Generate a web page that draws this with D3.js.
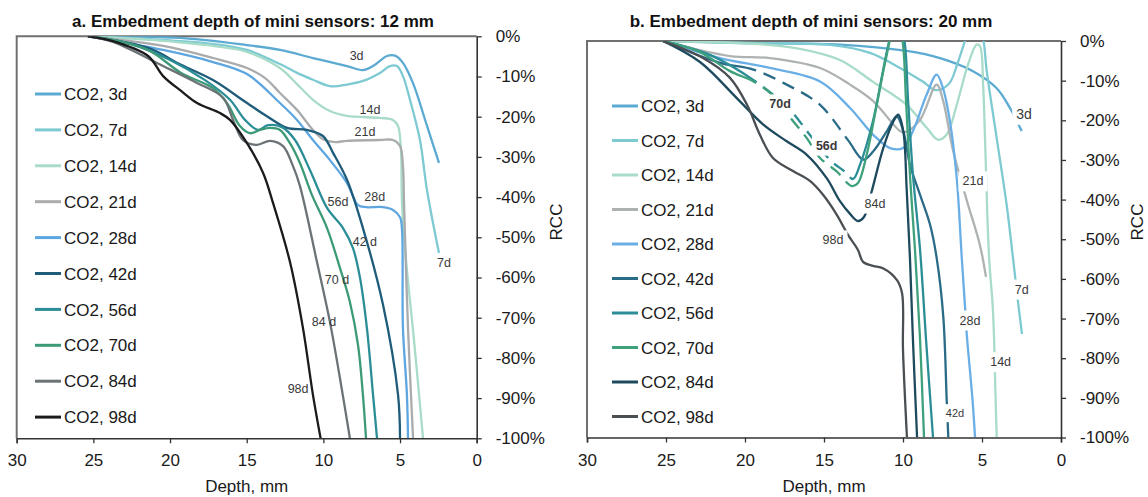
<!DOCTYPE html>
<html>
<head>
<meta charset="utf-8">
<script src="https://cdn.jsdelivr.net/npm/d3@7"></script>
<style>
  body { margin: 0; background: #fff; }
  svg { display: block; font-family: 'Liberation Sans', Arial, sans-serif; }
</style>
</head>
<body>
<svg width="1148" height="497"></svg>
<script>
const svg = d3.select('svg');

const days = ['3d', '7d', '14d', '21d', '28d', '42d', '56d', '70d', '84d', '98d'];
const depthTicks = [30, 25, 20, 15, 10, 5, 0];
const rccTicks = [0, -10, -20, -30, -40, -50, -60, -70, -80, -90, -100];

// [depth mm, RCC %] — sensors at 12 mm
const a3 = [[25.35, 0], [19.35, -0.4], [14.98, -2.2], [12.83, -3.4], [10.68, -5.4], [8.46, -7.4], [7.42, -8.4], [6.76, -7.4], [5.85, -4.9], [5.33, -4.8], [4.81, -6.6], [4.16, -11.6], [3.24, -22.3], [2.46, -31.5]];
const a7 = [[25.35, 0], [21.3, -0.7], [17.2, -1.9], [14.98, -3.4], [12.83, -6.9], [11.72, -9.1], [10.68, -10.8], [9.57, -12.4], [8.46, -12.0], [7.42, -11.1], [6.31, -9.1], [5.66, -7.4], [5.2, -7.4], [4.81, -9.9], [4.35, -15.8], [3.7, -25.8], [3.24, -38.3], [2.46, -53.9]];
const a14 = [[25.35, 0], [21.3, -0.9], [17.2, -2.4], [14.98, -3.9], [12.83, -7.9], [11.72, -11.9], [10.68, -15.8], [9.57, -18.6], [8.46, -19.8], [6.31, -20.3], [5.46, -20.8], [5.13, -22.3], [4.94, -28.3], [4.87, -41.5], [4.61, -55.6], [4.09, -75.5], [3.5, -100]];
const a21 = [[25.35, 0], [20.45, -2.4], [17.2, -5.4], [14.98, -7.9], [13.8, -10.4], [12.83, -14.1], [11.72, -18.3], [10.68, -23.3], [10.03, -25.6], [9.24, -26.3], [8.46, -26.0], [6.31, -25.8], [5.46, -25.8], [5.0, -27.3], [4.81, -32.3], [4.74, -41.5], [4.48, -72.6], [4.15, -100]];
const a28 = [[25.35, 0], [20.45, -3.4], [17.2, -6.4], [14.98, -9.4], [12.83, -16.6], [11.72, -20.8], [10.68, -25.8], [9.57, -30.8], [8.46, -36.5], [7.74, -42.0], [7.22, -42.5], [6.11, -42.5], [5.46, -43.2], [5.0, -45.0], [4.87, -48.2], [4.81, -72.6], [4.55, -89.2], [4.48, -100]];
const a42 = [[25.35, 0], [21.43, -2.9], [19.28, -7.1], [17.2, -10.9], [14.98, -16.6], [13.68, -19.9], [12.37, -22.8], [11.07, -23.3], [10.03, -24.8], [9.37, -29.0], [8.46, -35.7], [7.42, -47.7], [6.11, -66.8], [5.13, -89.2], [5.0, -100]];
const a56 = [[25.35, 0], [22.61, -1.9], [20.0, -5.9], [17.72, -10.9], [16.09, -15.8], [15.11, -20.8], [14.26, -23.3], [13.61, -22.1], [12.7, -22.6], [11.85, -25.8], [10.87, -33.3], [9.76, -42.7], [8.72, -47.7], [8.07, -52.7], [7.61, -60.1], [7.16, -72.6], [6.76, -89.2], [6.5, -100]];
const a70 = [[25.35, 0], [23.72, -0.9], [21.43, -3.4], [19.28, -9.1], [17.2, -12.9], [16.29, -16.6], [15.44, -22.3], [14.79, -24.1], [14.13, -23.3], [13.48, -22.8], [12.83, -23.3], [12.18, -26.6], [11.53, -31.5], [10.74, -39.5], [9.76, -47.7], [8.92, -57.6], [8.27, -66.1], [7.74, -76.8], [7.42, -89.2], [7.22, -100]];
const a84 = [[25.35, 0], [23.72, -1.4], [20.45, -7.4], [18.24, -11.6], [16.54, -15.3], [15.89, -20.8], [15.24, -25.8], [14.33, -27.0], [13.48, -26.0], [12.63, -27.3], [11.98, -32.3], [11.53, -37.2], [10.42, -56.1], [9.57, -71.1], [8.92, -85.0], [8.27, -100]];
const a98 = [[25.35, 0], [23.72, -1.2], [21.43, -4.9], [20.45, -9.9], [19.28, -13.6], [18.24, -16.6], [16.74, -19.1], [16.09, -20.8], [14.98, -26.6], [13.93, -34.0], [13.28, -41.5], [12.18, -56.1], [11.33, -72.6], [10.68, -89.2], [10.18, -100]];

// [depth mm, RCC %] — sensors at 20 mm
const b3 = [[25.19, 0], [20.32, -0.5], [13.99, -0.9], [9.77, -2.5], [7.66, -4.3], [5.57, -7.6], [4.07, -11.9], [3.23, -16.9], [2.49, -22.7]];
const b7 = [[25.19, 0], [19.68, -0.5], [14.62, -1.0], [12.09, -3.0], [10.19, -6.8], [8.73, -10.3], [7.91, -12.4], [7.09, -10.8], [6.52, -5.3], [6.01, 0.8], [5.44, 6.6], [4.94, 0.8], [4.7, -7.6], [4.07, -24.5], [3.44, -41.3], [3.04, -54.7], [2.72, -65.8], [2.47, -73.9]];
const b14 = [[25.19, 0], [19.05, -0.8], [16.52, -2.0], [13.99, -4.8], [11.9, -10.3], [9.77, -16.1], [8.5, -21.9], [7.78, -24.9], [7.23, -23.6], [6.6, -16.1], [5.89, -6.0], [5.34, -0.9], [5.13, -1.3], [4.92, -11.9], [4.81, -24.5], [4.56, -54.0], [4.32, -67.0], [4.22, -77.1], [4.18, -84.2], [4.07, -100]];
const b21 = [[25.19, 0], [20.95, -3.8], [18.42, -4.3], [15.25, -6.8], [13.35, -11.0], [11.9, -15.1], [10.19, -22.7], [9.87, -23.0], [8.92, -19.9], [7.87, -11.0], [7.47, -14.9], [6.84, -27.5], [5.97, -40.1], [5.13, -51.5], [4.75, -59.5]];
const b28 = [[25.19, 0], [21.58, -4.3], [18.42, -6.8], [15.25, -10.2], [13.35, -16.9], [11.9, -23.6], [10.82, -27.0], [10.0, -27.0], [9.37, -22.7], [8.5, -13.5], [7.87, -8.5], [7.47, -11.9], [7.03, -20.2], [6.6, -34.6], [6.28, -54.7], [6.08, -66.6], [5.97, -73.7], [5.59, -91.0], [5.44, -100]];
const b42 = [[25.19, 0], [21.58, -5.5], [19.47, -7.2], [17.36, -11.0], [15.25, -16.1], [13.48, -25.0], [12.51, -29.9], [11.88, -27.8], [11.03, -22.8], [10.4, -19.0], [9.98, -22.8], [9.56, -31.2], [8.92, -38.8], [8.29, -46.3], [7.87, -54.7], [7.45, -69.5], [7.23, -91.0], [7.13, -100]];
const b56 = [[25.19, 0], [22.22, -3.5], [19.05, -11.0], [17.15, -17.4], [15.89, -23.7], [14.62, -30.0], [13.67, -33.0], [13.16, -34.8], [12.72, -31.2], [11.9, -20.2], [11.27, -7.6], [10.82, 0.8], [10.38, 5.8], [9.94, 0.8], [9.68, -14.9], [9.37, -33.8], [8.92, -52.7], [8.54, -75.4], [8.1, -100]];
const b70 = [[25.19, 0], [22.85, -2.8], [20.95, -7.6], [19.47, -10.2], [18.31, -13.5], [16.94, -20.3], [16.09, -24.5], [15.25, -29.5], [14.2, -32.9], [13.23, -36.6], [12.85, -35.8], [12.3, -28.7], [11.66, -16.1], [11.03, -3.5], [10.44, 5.3], [10.06, 0.8], [9.81, -14.9], [9.56, -33.8], [9.24, -52.7], [8.92, -75.4], [8.67, -100]];
const b84 = [[25.19, 0], [22.85, -5.3], [20.52, -14.4], [18.84, -21.1], [17.36, -25.3], [16.09, -28.7], [14.83, -34.6], [13.99, -40.4], [13.35, -43.6], [12.85, -45.4], [12.47, -44.4], [11.98, -37.9], [11.25, -27.0], [10.61, -20.3], [10.3, -18.6], [9.98, -22.8], [9.77, -37.1], [9.56, -54.7], [9.37, -75.4], [9.11, -100]];
const b98 = [[25.19, 0], [22.66, -4.3], [20.95, -9.3], [19.87, -16.1], [19.05, -23.7], [18.23, -29.5], [16.96, -32.8], [15.89, -35.3], [15.06, -38.8], [14.18, -43.9], [13.48, -48.9], [12.85, -52.7], [12.53, -55.7], [11.9, -56.7], [11.27, -57.3], [10.38, -60.3], [10.06, -63.6], [10.0, -77.9], [9.75, -100]];

// in-plot labels: [text, depth, RCC]
const labelsA = [['3d', 7.83, -4.8], ['14d', 6.96, -18.3], ['21d', 7.29, -23.8], ['28d', 6.65, -39.9], ['56d', 9.05, -41.2], ['42 d', 7.29, -51.2], ['7d', 2.13, -56.3], ['70 d', 9.11, -60.6], ['84 d', 9.96, -71.1], ['98d', 11.65, -87.7]];
const labelsB = [['3d', 2.34, -18.4], ['70d', 17.78, -15.9], ['56d', 14.83, -26.3], ['84d', 11.77, -40.9], ['98d', 14.43, -50.2], ['21d', 5.57, -35.3], ['7d', 2.49, -62.6], ['28d', 5.76, -70.4], ['14d', 3.82, -80.9], ['42d', 6.71, -93.9]];

const colorsA = ['#5aaad2', '#7ecad3', '#a8dcc8', '#a9abad', '#5ea6e0', '#1f5c7a', '#2b8d96', '#3c9a76', '#6b7376', '#1b1b1e'];
const colorsB = ['#5aaad2', '#7ecad3', '#a8dcc8', '#aeb2b2', '#6aaee6', '#2a6b88', '#2b8d96', '#3fa07c', '#1e4a5e', '#4a4f53'];

const panels = [
  {
    title: 'a. Embedment depth of mini sensors: 12 mm',
    series: [a3, a7, a14, a21, a28, a42, a56, a70, a84, a98],
    colors: colorsA, labels: labelsA, boxed: false, dashed: [],
    left: 16.7, right: 476.7, top: 36.3, bottom: 438.3,
    titleX: 253, rccX: 556, legendX: 35, legendY: 94, legendStep: 35.9,
  },
  {
    title: 'b. Embedment depth of mini sensors: 20 mm',
    series: [b3, b7, b14, b21, b28, b42, b56, b70, b84, b98],
    colors: colorsB, labels: labelsB, boxed: true, dashed: ['42d', '56d', '70d'],
    left: 587, right: 1061, top: 41, bottom: 437.5,
    titleX: 811, rccX: 1137, legendX: 612, legendY: 106, legendStep: 34.5,
  },
];

// dashed stretch of a path between two depths, solid elsewhere
const dashBetween = (node, x, from, to) => {
  const total = node.getTotalLength();
  let l1 = null;
  let l2 = total;
  for (let s = 0; s <= total; s += 1) {
    const pt = node.getPointAtLength(s);
    if (l1 === null && pt.x >= x(from)) l1 = s;
    if (pt.x >= x(to)) { l2 = s; break; }
  }
  const dash = 13;
  const gap = 8;
  const arr = [l1];
  let pos = l1;
  while (pos + gap + dash < l2) {
    arr.push(gap, dash);
    pos += gap + dash;
  }
  arr.push(gap, total);
  return arr.join(' ');
};

panels.forEach((p, i) => {
  const x = d3.scaleLinear().domain([30, 0]).range([p.left, p.right]);
  const y = d3.scaleLinear().domain([0, -100]).range([p.top, p.bottom]);
  const g = svg.append('g');

  g.append('clipPath')
    .attr('id', 'plot' + i)
    .append('rect')
    .attr('x', p.left)
    .attr('y', p.top)
    .attr('width', p.right - p.left)
    .attr('height', p.bottom - p.top);

  // left and top edges of the plot frame
  g.append('path')
    .attr('d', `M${p.left},${p.bottom}V${p.top}H${p.right}`)
    .attr('fill', 'none')
    .attr('stroke', '#707070')
    .attr('stroke-width', 2);

  const line = d3.line()
    .x(d => x(d[0]))
    .y(d => y(d[1]))
    .curve(d3.curveCatmullRom.alpha(0.5));

  const paths = g.append('g')
    .attr('clip-path', `url(#plot${i})`)
    .selectAll('path')
    .data(p.series)
    .join('path')
    .attr('d', line)
    .attr('fill', 'none')
    .attr('stroke', (d, j) => p.colors[j])
    .attr('stroke-width', 2.3)
    .attr('stroke-linejoin', 'round');

  paths.filter((d, j) => p.dashed.includes(days[j]))
    .attr('stroke-dasharray', function () { return dashBetween(this, x, 19.3, 13.4); });

  const xAxis = g.append('g')
    .attr('transform', `translate(0,${p.bottom})`)
    .call(d3.axisBottom(x).tickValues(depthTicks).tickSize(5).tickSizeOuter(5).tickPadding(11));

  const yAxis = g.append('g')
    .attr('transform', `translate(${p.right},0)`)
    .call(d3.axisRight(y).tickValues(rccTicks).tickSize(5).tickSizeOuter(0).tickPadding(14).tickFormat(d => d + '%'));

  [xAxis, yAxis].forEach(ax => {
    ax.select('.domain').attr('stroke', '#333').attr('stroke-width', 1.6);
    ax.selectAll('.tick line').attr('stroke', '#333').attr('stroke-width', 1.3);
    ax.selectAll('.tick text')
      .attr('fill', '#1a1a1a')
      .style('font-size', '17px')
      .style('font-family', "'Liberation Sans', Arial, sans-serif");
  });

  // curve labels
  p.labels.forEach(([txt, dep, rcc]) => {
    const bold = p.boxed && (txt === '70d' || txt === '56d');
    const size = txt === '42d' ? 11 : (p.boxed && txt === '3d' ? 14 : 12.5);
    const t = g.append('text')
      .attr('x', x(dep))
      .attr('y', y(rcc))
      .attr('dy', '0.35em')
      .attr('text-anchor', 'middle')
      .attr('fill', '#3a3a3a')
      .style('font-size', size + 'px')
      .style('font-weight', bold ? 'bold' : 'normal')
      .text(txt);
    if (p.boxed) {
      const b = t.node().getBBox();
      g.insert('rect', () => t.node())
        .attr('x', b.x - 4)
        .attr('y', b.y - 3)
        .attr('width', b.width + 8)
        .attr('height', b.height + 6)
        .attr('fill', '#fff');
    }
  });

  // legend
  const legend = g.append('g');
  days.forEach((day, j) => {
    const ly = p.legendY + j * p.legendStep;
    legend.append('line')
      .attr('x1', p.legendX)
      .attr('x2', p.legendX + 26)
      .attr('y1', ly)
      .attr('y2', ly)
      .attr('stroke', p.colors[j])
      .attr('stroke-width', 3);
    legend.append('text')
      .attr('x', p.legendX + 29)
      .attr('y', ly)
      .attr('dy', '0.36em')
      .attr('fill', '#1a1a1a')
      .style('font-size', '17px')
      .text('CO2, ' + day);
  });

  g.append('text')
    .attr('x', p.titleX)
    .attr('y', 26.5)
    .attr('text-anchor', 'middle')
    .attr('fill', '#111')
    .style('font-size', '17px')
    .style('font-weight', 'bold')
    .text(p.title);

  g.append('text')
    .attr('x', (p.left + p.right) / 2)
    .attr('y', 492)
    .attr('text-anchor', 'middle')
    .attr('fill', '#1a1a1a')
    .style('font-size', '17px')
    .text('Depth, mm');

  g.append('text')
    .attr('transform', `translate(${p.rccX},222) rotate(-90)`)
    .attr('text-anchor', 'middle')
    .attr('dy', '0.35em')
    .attr('fill', '#1a1a1a')
    .style('font-size', '17px')
    .text('RCC');
});
</script>
</body>
</html>
